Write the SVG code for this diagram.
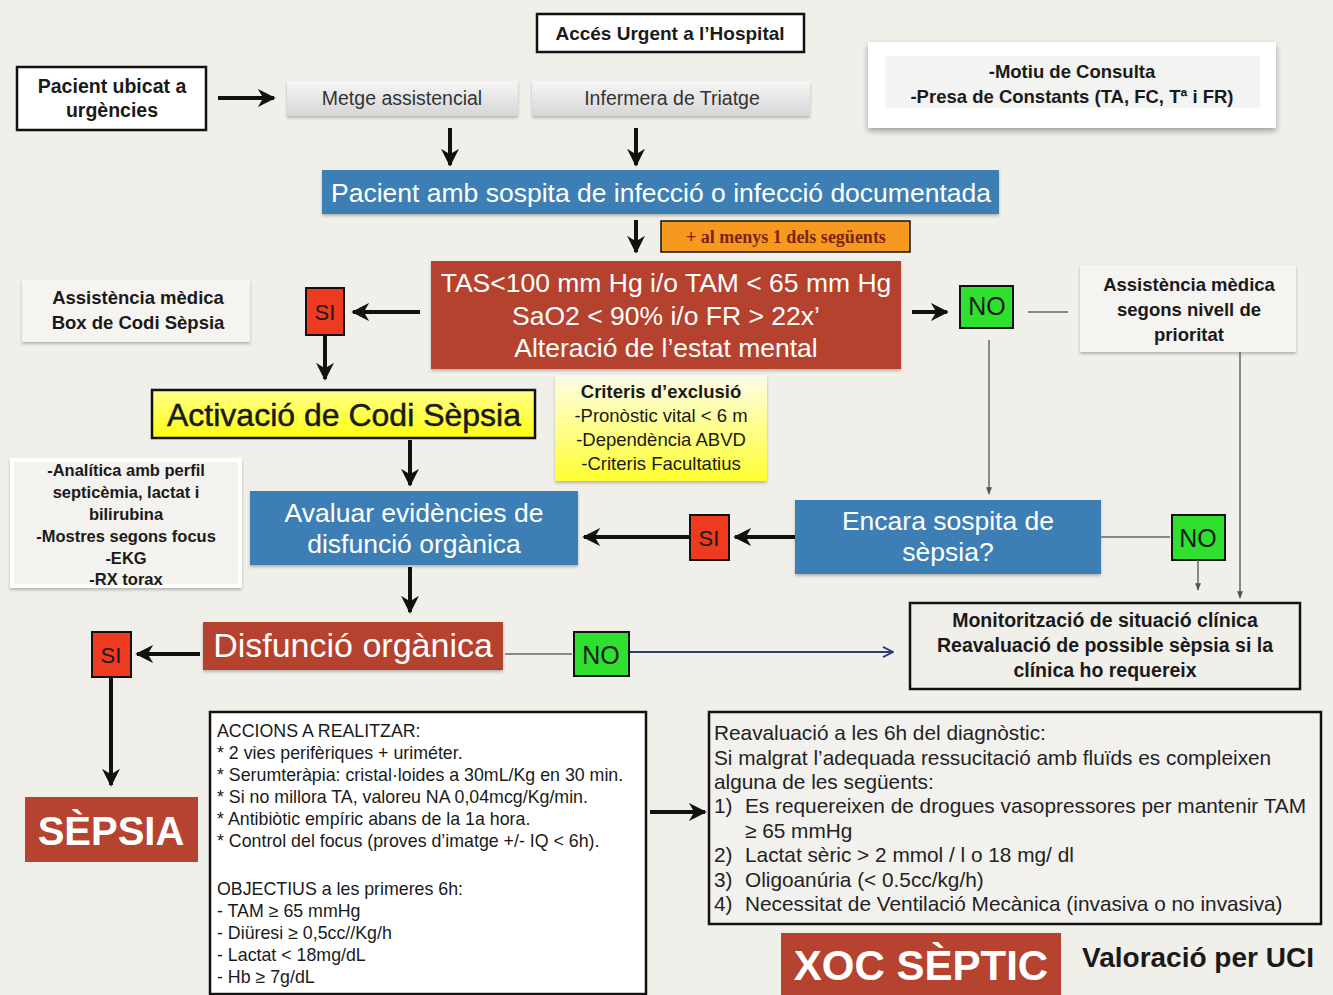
<svg xmlns="http://www.w3.org/2000/svg" width="1333" height="995" viewBox="0 0 1333 995">
<defs>
<linearGradient id="gbtn" x1="0" y1="0" x2="0" y2="1"><stop offset="0" stop-color="#f6f6f6"/><stop offset="1" stop-color="#d6d6d6"/></linearGradient>
<linearGradient id="gyel" x1="0" y1="0" x2="0" y2="1"><stop offset="0" stop-color="#ffff8a"/><stop offset="1" stop-color="#ffff10"/></linearGradient>
<linearGradient id="gcrit" x1="0" y1="0" x2="0" y2="1"><stop offset="0" stop-color="#fdfde8"/><stop offset="1" stop-color="#ffff30"/></linearGradient>
<filter id="sh" x="-10%" y="-20%" width="120%" height="160%"><feDropShadow dx="0" dy="3" stdDeviation="3" flood-color="#000" flood-opacity="0.35"/></filter>
<filter id="shs" x="-10%" y="-20%" width="120%" height="160%"><feDropShadow dx="0" dy="2" stdDeviation="1.5" flood-color="#000" flood-opacity="0.25"/></filter>
<marker id="ah" viewBox="0 0 10 10" refX="9" refY="5" markerWidth="4.5" markerHeight="4.5" orient="auto-start-reverse" markerUnits="strokeWidth"><path d="M0,0 L10,5 L0,10 L3,5 z" fill="#111"/></marker>
<marker id="ahs" viewBox="0 0 10 10" refX="9" refY="5" markerWidth="5" markerHeight="5" orient="auto" markerUnits="strokeWidth"><path d="M0,1 L10,5 L0,9 z" fill="#555"/></marker>
<marker id="ahv" viewBox="0 0 10 10" refX="9" refY="5" markerWidth="7" markerHeight="7" orient="auto" markerUnits="strokeWidth"><path d="M1,1 L9,5 L1,9" fill="none" stroke="#2b3a78" stroke-width="1.5"/></marker>
</defs>
<style>
text{font-family:"Liberation Sans",Arial,sans-serif;}
.bold{font-weight:bold;}
.c{text-anchor:middle;}
.box{fill:#fff;stroke:#111;stroke-width:2.5;}
.blue{fill:#3c7fb5;}
.red{fill:#b5432f;}
.si{fill:#ee3b1f;stroke:#111;stroke-width:2;}
.no{fill:#2fe02f;stroke:#111;stroke-width:2;}
.card{fill:#f5f4f1;}
.wt{fill:#fff;}
.dk{fill:#1a1a1a;}
.arr{stroke:#111;stroke-width:4;fill:none;marker-end:url(#ah);}
.thin{stroke:#666;stroke-width:1.5;fill:none;}
.thina{stroke:#666;stroke-width:1.5;fill:none;marker-end:url(#ahs);}
</style>
<rect x="0" y="0" width="1333" height="995" fill="#f1efea"/>

<g id="acces"><rect x="537" y="14" width="267" height="38" class="box"/><text x="670" y="40" class="c bold dk" font-size="19">Accés Urgent a l’Hospital</text></g>
<g id="pacient"><rect x="17" y="67" width="189" height="63" class="box"/><text x="112" y="93" class="c bold dk" font-size="19.5">Pacient ubicat a</text><text x="112" y="117" class="c bold dk" font-size="19.5">urgències</text></g>
<g id="metge"><rect x="287" y="81" width="231" height="35" fill="url(#gbtn)" filter="url(#shs)"/><text x="402" y="105" class="c" font-size="19.5" fill="#333">Metge assistencial</text></g>
<g id="infermera"><rect x="532" y="81" width="278" height="35" fill="url(#gbtn)" filter="url(#shs)"/><text x="672" y="105" class="c" font-size="19.5" fill="#333">Infermera de Triatge</text></g>
<g id="motiu"><rect x="868" y="42" width="408" height="86" fill="#fff" filter="url(#sh)"/><rect x="885" y="56" width="375" height="52" fill="#f3f3f1"/><text x="1072" y="78" class="c bold dk" font-size="18.5">-Motiu de Consulta</text><text x="1072" y="103" class="c bold dk" font-size="18.5">-Presa de Constants (TA, FC, Tª i FR)</text></g>

<g id="sospita"><rect x="322" y="170" width="677" height="44" class="blue" filter="url(#shs)"/><text x="661" y="202" class="c wt" font-size="26.5">Pacient amb sospita de infecció o infecció documentada</text></g>
<g id="almenys"><rect x="661" y="221" width="249" height="31" fill="#f7981f" stroke="#111" stroke-width="1.5"/><text x="786" y="243" class="c bold" font-size="18" fill="#7a2410" style="font-family:'Liberation Serif',serif">+ al menys 1 dels següents</text></g>
<g id="criteris"><rect x="431" y="261" width="470" height="108" class="red" filter="url(#shs)"/><text x="666" y="292" class="c wt" font-size="26.5">TAS&lt;100 mm Hg i/o TAM &lt; 65 mm Hg</text><text x="666" y="325" class="c wt" font-size="26.5">SaO2 &lt; 90% i/o FR &gt; 22x’</text><text x="666" y="357" class="c wt" font-size="26.5">Alteració de l’estat mental</text></g>
<g id="si1"><rect x="306" y="288" width="38" height="47" class="si"/><text x="325" y="320" class="c dk" font-size="22">SI</text></g>
<g id="box-codi"><rect x="22" y="280" width="228" height="62" class="card" filter="url(#shs)"/><text x="138" y="304" class="c bold dk" font-size="18.5">Assistència mèdica</text><text x="138" y="329" class="c bold dk" font-size="18.5">Box de Codi Sèpsia</text></g>
<g id="no1"><rect x="960" y="286" width="53" height="42" class="no"/><text x="987" y="315" class="c dk" font-size="25">NO</text></g>
<g id="nivell"><rect x="1080" y="265" width="216" height="87" class="card" filter="url(#shs)"/><text x="1189" y="291" class="c bold dk" font-size="18.5">Assistència mèdica</text><text x="1189" y="316" class="c bold dk" font-size="18.5">segons nivell de</text><text x="1189" y="341" class="c bold dk" font-size="18.5">prioritat</text></g>
<g id="activacio"><rect x="152" y="390" width="383" height="48" fill="url(#gyel)" stroke="#111" stroke-width="2.5"/><text x="344" y="426" class="c dk" font-size="32" stroke="#1a1a1a" stroke-width="0.5">Activació de Codi Sèpsia</text></g>
<g id="exclusio"><rect x="555" y="375" width="212" height="106" fill="url(#gcrit)" filter="url(#shs)"/><text x="661" y="398" class="c bold dk" font-size="18.5">Criteris d’exclusió</text><text x="661" y="422" class="c dk" font-size="18.5">-Pronòstic vital &lt; 6 m</text><text x="661" y="446" class="c dk" font-size="18.5">-Dependència ABVD</text><text x="661" y="470" class="c dk" font-size="18.5">-Criteris Facultatius</text></g>
<g id="analitica"><rect x="10" y="458" width="232" height="130" fill="#fff" filter="url(#shs)"/><rect x="14" y="462" width="224" height="122" fill="#f3f2ef"/><text x="126" y="476" class="c bold dk" font-size="16.5">-Analítica amb perfil</text><text x="126" y="498" class="c bold dk" font-size="16.5">septicèmia, lactat i</text><text x="126" y="520" class="c bold dk" font-size="16.5">bilirubina</text><text x="126" y="542" class="c bold dk" font-size="16.5">-Mostres segons focus</text><text x="126" y="564" class="c bold dk" font-size="16.5">-EKG</text><text x="126" y="585" class="c bold dk" font-size="16.5">-RX torax</text></g>
<g id="avaluar"><rect x="250" y="491" width="328" height="74" class="blue" filter="url(#shs)"/><text x="414" y="522" class="c wt" font-size="26.5">Avaluar evidències de</text><text x="414" y="553" class="c wt" font-size="26.5">disfunció orgànica</text></g>
<g id="si2"><rect x="690" y="515" width="39" height="45" class="si"/><text x="709" y="546" class="c dk" font-size="22">SI</text></g>
<g id="encara"><rect x="795" y="500" width="306" height="74" class="blue" filter="url(#shs)"/><text x="948" y="530" class="c wt" font-size="26.5">Encara sospita de</text><text x="948" y="561" class="c wt" font-size="26.5">sèpsia?</text></g>
<g id="no2"><rect x="1172" y="515" width="53" height="45" class="no"/><text x="1198" y="547" class="c dk" font-size="25">NO</text></g>
<g id="disfuncio"><rect x="203" y="622" width="300" height="48" class="red" filter="url(#shs)"/><text x="353" y="657" class="c wt" font-size="34">Disfunció orgànica</text></g>
<g id="si3"><rect x="92" y="632" width="39" height="45" class="si"/><text x="111" y="663" class="c dk" font-size="22">SI</text></g>
<g id="no3"><rect x="574" y="632" width="55" height="44" class="no"/><text x="601" y="664" class="c dk" font-size="25">NO</text></g>
<g id="monitor"><rect x="910" y="603" width="390" height="86" fill="none" stroke="#111" stroke-width="2.5"/><text x="1105" y="627" class="c bold dk" font-size="19.5">Monitorització de situació clínica</text><text x="1105" y="652" class="c bold dk" font-size="19.5">Reavaluació de possible sèpsia si la</text><text x="1105" y="677" class="c bold dk" font-size="19.5">clínica ho requereix</text></g>
<g id="sepsia"><rect x="25" y="797" width="173" height="65" class="red"/><text x="111" y="845" class="c bold wt" font-size="40">SÈPSIA</text></g>
<g id="accions"><rect x="210" y="712" width="436" height="282" class="box"/>
<g font-size="17.8" fill="#1a1a1a">
<text x="217" y="737">ACCIONS A REALITZAR:</text>
<text x="217" y="759">* 2 vies perifèriques + uriméter.</text>
<text x="217" y="781">* Serumteràpia: cristal·loides a 30mL/Kg en 30 min.</text>
<text x="217" y="803">* Si no millora TA, valoreu NA 0,04mcg/Kg/min.</text>
<text x="217" y="825">* Antibiòtic empíric abans de la 1a hora.</text>
<text x="217" y="847">* Control del focus (proves d’imatge +/- IQ &lt; 6h).</text>
<text x="217" y="895">OBJECTIUS a les primeres 6h:</text>
<text x="217" y="917">- TAM ≥ 65 mmHg</text>
<text x="217" y="939">- Diüresi ≥ 0,5cc//Kg/h</text>
<text x="217" y="961">- Lactat &lt; 18mg/dL</text>
<text x="217" y="983">- Hb ≥ 7g/dL</text>
</g></g>
<g id="reavaluacio"><rect x="709" y="712" width="612" height="212" fill="#f2f1ee" stroke="#111" stroke-width="2.5"/>
<g font-size="20.8" fill="#222">
<text x="714" y="740">Reavaluació a les 6h del diagnòstic:</text>
<text x="714" y="765">Si malgrat l’adequada ressucitació amb fluïds es compleixen</text>
<text x="714" y="789">alguna de les següents:</text>
<text x="714" y="813">1)</text><text x="745" y="813">Es requereixen de drogues vasopressores per mantenir TAM</text>
<text x="745" y="838">≥ 65 mmHg</text>
<text x="714" y="862">2)</text><text x="745" y="862">Lactat sèric &gt; 2 mmol / l o 18 mg/ dl</text>
<text x="714" y="887">3)</text><text x="745" y="887">Oligoanúria (&lt; 0.5cc/kg/h)</text>
<text x="714" y="911">4)</text><text x="745" y="911">Necessitat de Ventilació Mecànica (invasiva o no invasiva)</text>
</g></g>
<g id="xoc"><rect x="781" y="933" width="280" height="62" class="red"/><text x="921" y="980" class="c bold wt" font-size="42">XOC SÈPTIC</text></g>
<g id="uci"><text x="1198" y="967" class="c bold dk" font-size="28">Valoració per UCI</text></g>

<g id="connectors">
<line x1="218" y1="98" x2="274" y2="98" class="arr"/>
<line x1="450" y1="128" x2="450" y2="165" class="arr"/>
<line x1="636" y1="128" x2="636" y2="165" class="arr"/>
<line x1="636" y1="220" x2="636" y2="252" class="arr"/>
<line x1="420" y1="312" x2="353" y2="312" class="arr"/>
<line x1="325" y1="336" x2="325" y2="379" class="arr"/>
<line x1="912" y1="312" x2="947" y2="312" class="arr"/>
<line x1="1028" y1="312" x2="1068" y2="312" class="thin"/>
<line x1="989" y1="340" x2="989" y2="494" class="thina"/>
<line x1="1240" y1="352" x2="1240" y2="598" class="thina"/>
<line x1="410" y1="440" x2="410" y2="485" class="arr"/>
<line x1="795" y1="537" x2="735" y2="537" class="arr"/>
<line x1="690" y1="537" x2="584" y2="537" class="arr"/>
<line x1="1101" y1="537" x2="1170" y2="537" class="thin"/>
<line x1="1198" y1="560" x2="1198" y2="590" class="thina"/>
<line x1="410" y1="567" x2="410" y2="612" class="arr"/>
<line x1="200" y1="654" x2="137" y2="654" class="arr"/>
<line x1="505" y1="654" x2="572" y2="654" class="thin"/>
<line x1="630" y1="652" x2="893" y2="652" stroke="#2b3a78" stroke-width="1.8" marker-end="url(#ahv)"/>
<line x1="111" y1="678" x2="111" y2="785" class="arr"/>
<line x1="650" y1="812" x2="705" y2="812" class="arr"/>
</g>
</svg>
